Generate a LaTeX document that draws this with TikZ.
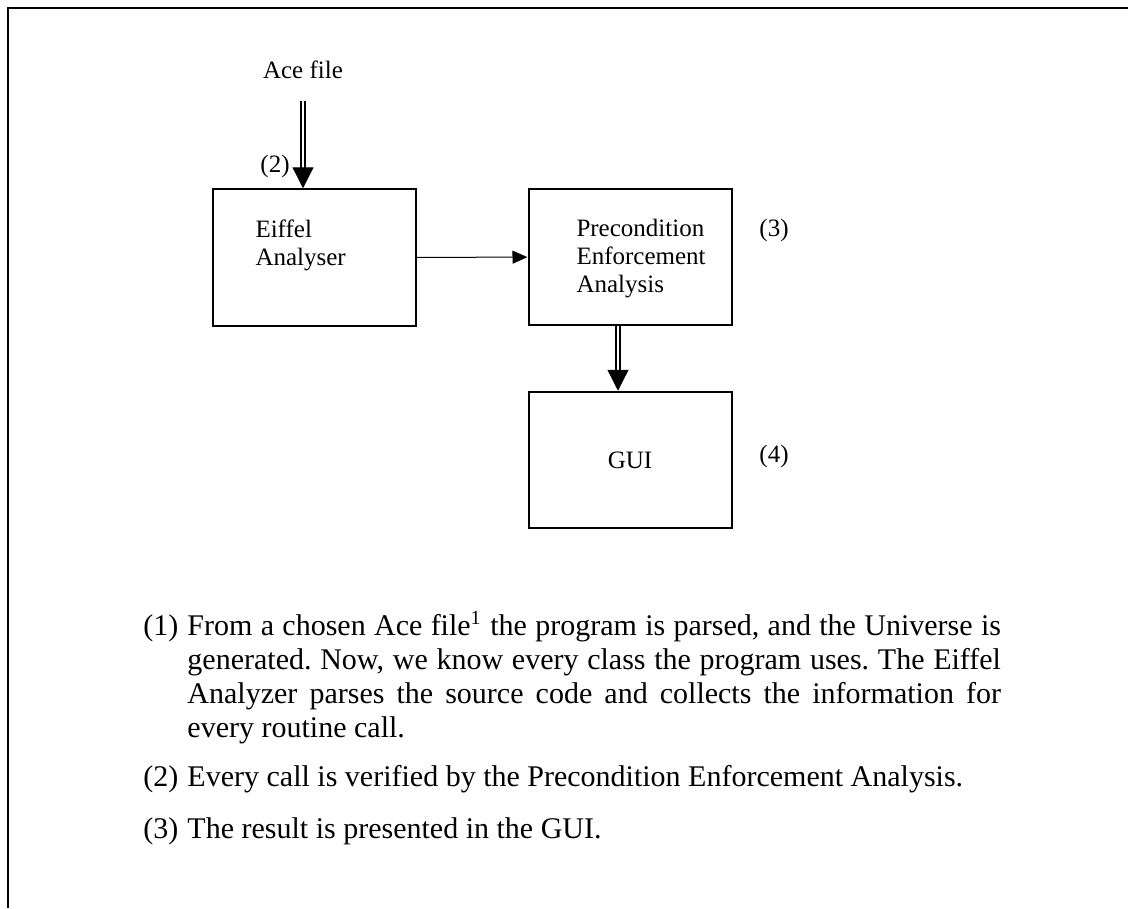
\documentclass[tikz,border=0pt]{standalone}
\usepackage{fontspec}
\setmainfont{Liberation Serif}
\usetikzlibrary{arrows.meta}
\frenchspacing

\begin{document}
\begin{tikzpicture}[x=0.4pt, y=-0.4pt,
	every node/.style={inner sep=0pt},
	box/.style={draw, line width=0.8pt, minimum width=81.2pt, minimum height=54.6pt},
	boxtext/.style={anchor=north west, align=left, font=\fontsize{10}{11.2}\selectfont},
	tag/.style={font=\fontsize{10}{11.2}\selectfont},
	feed/.style={double, double distance=1.1pt, line width=0.5pt, -{Triangle[length=8.4pt, width=8.4pt]}},
	link/.style={line width=0.4pt, -{Triangle[length=6pt, width=5.2pt]}},
	note/.style={anchor=north west, text width=343pt, align=justify, font=\fontsize{12}{13.6}\selectfont}]
	\useasboundingbox (0,0) rectangle (1128,908);
	% frame, open at the right and at the bottom
	\draw[line width=1pt] (8,908) -- (8,8) -- (1128,8);

	% the three stages
	\node[box] (eiffel) at (314,257.5) {};
	\node[box] (pea) at (630,257) {};
	\node[box, tag] (gui) at (630,460) {GUI};
	\node[boxtext] (eiffel text) at (255,219) {Eiffel\\Analyser};
	\node[boxtext] (pea text) at (576,219) {Precondition\\Enforcement\\Analysis};

	\node[tag] (ace) at (303,70) {Ace file};
	\node[tag] (tag2) at (275,166) {(2)};
	\node[tag] (tag3) at (774,230) {(3)};
	\node[tag] (tag4) at (774,456) {(4)};

	\draw[feed, shorten <=8.6pt] (ace.south) -- (ace.south |- eiffel.north);
	\draw[link] (eiffel) -- (pea);
	\draw[feed] ([xshift=-4.8pt]pea.south) -- ([xshift=-4.8pt]gui.north);

	% numbered notes below the diagram
	\node[note] (note1) at (143,611) {\noindent\hangindent=17.6pt\hangafter=1\strut\makebox[17.6pt][l]{(1)}From a chosen Ace file\textsuperscript{1} the program is parsed, and the Universe is\linebreak generated. Now, we know every class the program uses. The Eiffel\linebreak Analyzer parses the source code and collects the information for\linebreak every routine call.\par};
	\node[note] (note2) at (143,762) {\noindent\hangindent=17.6pt\hangafter=1\strut\makebox[17.6pt][l]{(2)}Every call is verified by the Precondition Enforcement Analysis.\par};
	\node[note] (note3) at (143,814) {\noindent\hangindent=17.6pt\hangafter=1\strut\makebox[17.6pt][l]{(3)}The result is presented in the GUI.\par};
\end{tikzpicture}
\end{document}
